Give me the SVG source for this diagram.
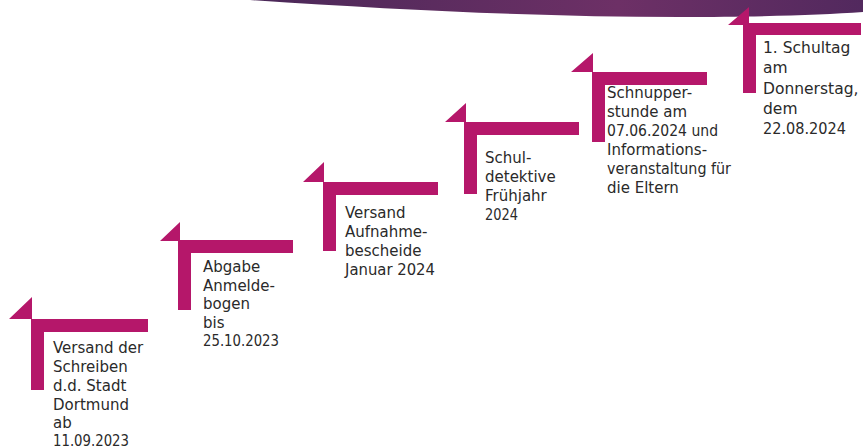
<svg xmlns="http://www.w3.org/2000/svg" width="863" height="448" viewBox="0 0 863 448">
<defs>
<linearGradient id="band" x1="250" y1="0" x2="863" y2="0" gradientUnits="userSpaceOnUse">
<stop offset="0" stop-color="#4a2858"/>
<stop offset="0.6" stop-color="#6d3066"/>
<stop offset="1" stop-color="#52295e"/>
</linearGradient>
<style>
.step{fill:#b5176a}
.t{font-family:"DejaVu Sans","Liberation Sans",sans-serif;font-size:15px;fill:#2a2a2a}
.t6{font-size:15.5px}
</style>
</defs>
<rect width="863" height="448" fill="#ffffff"/>
<g id="banner">
<path d="M250,0 C400,10 540,17 680,17 C760,17 820,15 863,12 L863,0 Z" fill="url(#band)"/>
</g>
<g id="step1">
<path class="step" d="M9,319 L32,297 L32,319 L148,319 L148,332 L44,332 L44,390 L31,390 L31,319 Z"/>
<text class="t"><tspan x="53" y="353">Versand der</tspan><tspan x="53" y="372">Schreiben</tspan><tspan x="53" y="391">d.d. Stadt</tspan><tspan x="53" y="410">Dortmund</tspan><tspan x="53" y="428">ab</tspan></text>
<text class="t" x="53" y="446" textLength="76" lengthAdjust="spacingAndGlyphs">11.09.2023</text>
</g>
<g id="step2">
<path class="step" d="M160,241 L180,222 L180,240 L293,240 L293,253 L191,253 L191,310 L178,310 L178,241 Z"/>
<text class="t"><tspan x="203" y="272">Abgabe</tspan><tspan x="203" y="291">Anmelde-</tspan><tspan x="203" y="309">bogen</tspan><tspan x="203" y="328">bis</tspan></text>
<text class="t" x="203" y="346" textLength="76" lengthAdjust="spacingAndGlyphs">25.10.2023</text>
</g>
<g id="step3">
<path class="step" d="M303,182 L324,162 L324,182 L438,182 L438,195 L336,195 L336,251 L323,251 L323,182 Z"/>
<text class="t"><tspan x="345" y="218">Versand</tspan><tspan x="345" y="237">Aufnahme-</tspan><tspan x="345" y="256">bescheide</tspan></text>
<text class="t" x="345" y="275" textLength="90" lengthAdjust="spacingAndGlyphs">Januar 2024</text>
</g>
<g id="step4">
<path class="step" d="M445,122 L466,103 L466,122 L579,122 L579,135 L477,135 L477,194 L464,194 L464,122 Z"/>
<text class="t"><tspan x="485" y="163">Schul-</tspan><tspan x="485" y="182">detektive</tspan><tspan x="485" y="201">Frühjahr</tspan></text>
<text class="t" x="485" y="220" textLength="33" lengthAdjust="spacingAndGlyphs">2024</text>
</g>
<g id="step5">
<path class="step" d="M571,72 L593,53 L593,72 L707,72 L707,85 L605,85 L605,142 L592,142 L592,72 Z"/>
<text class="t"><tspan x="607" y="98">Schnupper-</tspan><tspan x="607" y="117">stunde am</tspan><tspan x="607" y="155">Informations-</tspan><tspan x="607" y="193">die Eltern</tspan></text>
<text class="t" x="607" y="136" textLength="111" lengthAdjust="spacingAndGlyphs">07.06.2024 und</text>
<text class="t" x="607" y="174" textLength="124" lengthAdjust="spacingAndGlyphs">veranstaltung für</text>
</g>
<g id="step6">
<path class="step" d="M728,25 L749,7 L749,23 L861,23 L861,35 L756,35 L756,93 L743,93 L743,25 Z"/>
<text class="t t6"><tspan x="763" y="53">1. Schultag</tspan><tspan x="763" y="73">am</tspan><tspan x="763" y="94">Donnerstag,</tspan><tspan x="763" y="114">dem</tspan></text>
<text class="t t6" x="763" y="134" textLength="83" lengthAdjust="spacingAndGlyphs">22.08.2024</text>
</g>
</svg>
